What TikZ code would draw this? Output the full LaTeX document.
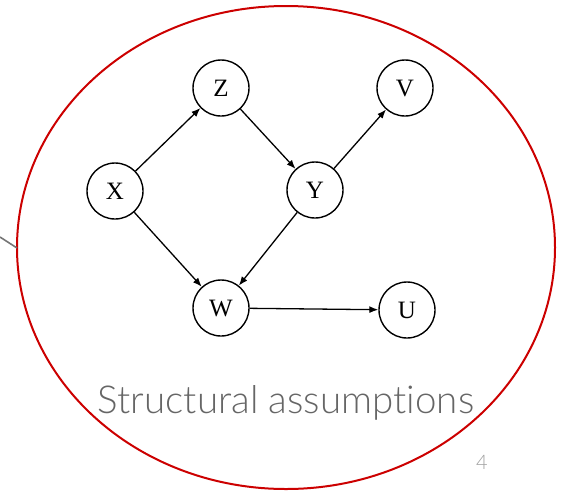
\documentclass[tikz,border=0pt]{standalone}
\usepackage{fontspec}
\setmainfont{Liberation Serif}
\newfontfamily\lightfont{Lato}[UprightFont=* Light,Ligatures={NoCommon,NoRare}]
\usetikzlibrary{arrows.meta}
\definecolor{ellred}{HTML}{CC0000}
\definecolor{txtgray}{HTML}{666666}
\definecolor{numgray}{HTML}{A0A0A0}
\begin{document}
\begin{tikzpicture}[x=1pt,y=-1pt,
  var/.style={circle,draw=black,line width=1.4pt,minimum size=56pt,inner sep=0pt,font=\fontsize{25}{25}\selectfont},
  edge/.style={line width=1.3pt,-{Latex[length=9pt,width=7pt]}}]
\useasboundingbox (0,0) rectangle (565,491);
\draw[ellred,line width=2pt] (286,247.5) ellipse [x radius=269, y radius=241.5];
\coordinate (lfree) at (0,237);
\coordinate (lend) at (17,248);
\draw[txtgray!90,line width=1.6pt] (lfree) -- (lend);
\node[var] (Z) at (221,88) {Z};
\node[var] (V) at (405,88) {V};
\node[var] (X) at (115,191) {X};
\node[var] (Y) at (315,190) {Y};
\node[var] (W) at (221,308) {W};
\node[var] (U) at (407,310) {U};
\draw[edge] (X) -- (Z);
\draw[edge] (Z) -- (Y);
\draw[edge] (Y) -- (V);
\draw[edge] (X) -- (W);
\draw[edge] (Y) -- (W);
\draw[edge] (W) -- (U);
\node[anchor=base,text=txtgray,font=\lightfont\fontsize{38.5}{38.5}\selectfont,inner sep=0pt] (title) at (286,413) {Structural assumptions};
\node[anchor=base,text=numgray,font=\lightfont\fontsize{20}{20}\selectfont,inner sep=0pt] (num) at (482,469) {4};
\end{tikzpicture}
\end{document}
